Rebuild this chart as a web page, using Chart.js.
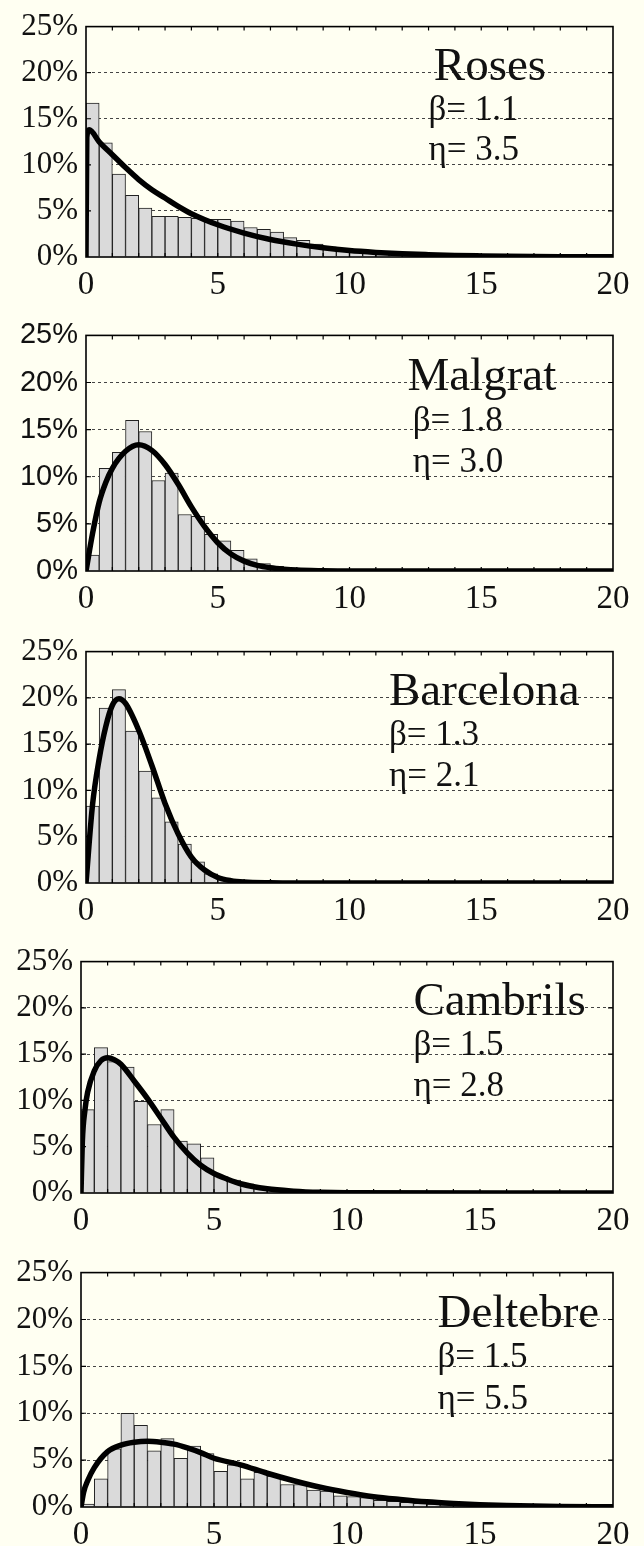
<!DOCTYPE html>
<html>
<head>
<meta charset="utf-8">
<script src="https://cdn.jsdelivr.net/npm/chart.js@4.4.1/dist/chart.umd.min.js"></script>
<style>
  html, body { margin: 0; padding: 0; background: #fffff2; }
  body { width: 644px; height: 1546px; position: relative; overflow: hidden; }
  canvas { position: absolute; left: 0; }
</style>
</head>
<body>
<canvas id="c0"></canvas>
<canvas id="c1"></canvas>
<canvas id="c2"></canvas>
<canvas id="c3"></canvas>
<canvas id="c4"></canvas>
<script>
// sites and fitted Weibull parameters
const sites = ['Roses', 'Malgrat', 'Barcelona', 'Cambrils', 'Deltebre'];
const betaLabels = ['1.1', '1.8', '1.3', '1.5', '1.5'];
const etaLabels = ['3.5', '3.0', '2.1', '2.8', '5.5'];

// tick labels
const xTicks = [0, 5, 10, 15, 20];
const yTicks = [0, 5, 10, 15, 20, 25];

// histograms: % of records in each 0.5-wide bin, starting at 0
const rosesBins = [16.7, 12.4, 9.0, 6.7, 5.3, 4.4, 4.4, 4.3, 4.2, 4.1, 4.1, 3.9, 3.2, 3.0, 2.7, 2.1, 1.8, 1.4, 1.1, 0.9, 0.7, 0.5, 0.35, 0.25, 0.15, 0.1];
const malgratBins = [1.7, 10.9, 12.6, 16.0, 14.8, 9.6, 10.4, 6.0, 5.8, 3.9, 3.2, 2.2, 1.3, 0.8, 0.5, 0.3, 0.2, 0.1];
const barcelonaBins = [8.3, 18.9, 20.9, 16.4, 12.1, 9.2, 6.6, 4.2, 2.3, 1.0, 0.5, 0.2, 0.1];
const cambrilsBins = [9.0, 15.7, 14.2, 13.6, 9.9, 7.4, 9.0, 5.6, 5.3, 3.8, 1.8, 1.4, 1.0, 0.7, 0.5, 0.3, 0.2, 0.1];
const deltebreBins = [0.3, 3.0, 6.2, 10.0, 8.7, 6.0, 7.3, 5.2, 6.5, 5.7, 3.8, 4.5, 3.0, 3.7, 3.3, 2.4, 2.4, 1.8, 1.7, 1.2, 1.1, 1.0, 0.7, 0.6, 0.5, 0.4, 0.3, 0.2, 0.15, 0.1];

// fitted curves, sampled along x
const rosesFitX = [0, 0.03, 0.12, 0.5, 1, 1.5, 2, 2.5, 3, 3.5, 4, 5, 6, 7, 8, 9, 10, 11, 12, 13, 14, 15, 16, 18, 20];
const rosesFitY = [0, 13.0, 13.8, 12.5, 11.1, 9.7, 8.4, 7.3, 6.4, 5.5, 4.7, 3.5, 2.6, 1.9, 1.4, 1.0, 0.7, 0.5, 0.35, 0.25, 0.17, 0.12, 0.08, 0.04, 0.02];
const malgratFitX = [0, 0.25, 0.5, 0.75, 1, 1.5, 2, 2.5, 3, 3.5, 4, 4.5, 5, 5.5, 6, 6.5, 7, 7.5, 8, 9, 10, 20];
const malgratFitY = [0, 4.0, 7.3, 9.4, 10.9, 12.7, 13.4, 12.8, 11.3, 9.2, 6.8, 4.7, 3.0, 1.8, 1.05, 0.6, 0.35, 0.2, 0.1, 0.03, 0, 0];
const barcelonaFitX = [0, 0.25, 0.5, 0.75, 1, 1.25, 1.5, 2, 2.5, 3, 3.5, 4, 4.5, 5, 5.5, 6, 7, 8, 20];
const barcelonaFitY = [0, 8.5, 13.4, 16.9, 19.2, 19.9, 19.4, 16.5, 12.7, 8.6, 5.3, 2.8, 1.4, 0.6, 0.25, 0.1, 0.02, 0, 0];
const cambrilsFitX = [0, 0.05, 0.15, 0.25, 0.5, 0.75, 1, 1.25, 1.5, 2, 2.5, 3, 3.5, 4, 4.5, 5, 5.5, 6, 7, 8, 9, 10, 20];
const cambrilsFitY = [0, 5.5, 9.0, 10.9, 13.2, 14.3, 14.6, 14.4, 13.9, 12.1, 10.2, 8.1, 6.0, 4.3, 3.0, 2.1, 1.5, 1.0, 0.45, 0.2, 0.07, 0.02, 0];
const deltebreFitX = [0, 0.1, 0.25, 0.5, 1, 1.5, 2, 2.5, 3, 3.5, 4, 4.5, 5, 6, 7, 8, 9, 10, 11, 12, 13, 14, 15, 16, 17, 18, 20];
const deltebreFitY = [0, 1.6, 2.8, 4.2, 5.9, 6.6, 6.9, 7.0, 6.9, 6.7, 6.3, 5.8, 5.2, 4.5, 3.6, 2.8, 2.1, 1.55, 1.1, 0.8, 0.55, 0.38, 0.25, 0.16, 0.1, 0.06, 0.02];

const allBins = [rosesBins, malgratBins, barcelonaBins, cambrilsBins, deltebreBins];
const allFitX = [rosesFitX, malgratFitX, barcelonaFitX, cambrilsFitX, deltebreFitX];
const allFitY = [rosesFitY, malgratFitY, barcelonaFitY, cambrilsFitY, deltebreFitY];

// panel placement on the page
const layout = [
  { top: 0,    left: 86, plotH: 235, nameX: 13.2, parX: 13.0, ySans: false },
  { top: 310,  left: 86, plotH: 239, nameX: 12.2, parX: 12.4, ySans: true },
  { top: 625,  left: 86, plotH: 236, nameX: 11.5, parX: 11.5, ySans: false },
  { top: 935,  left: 81, plotH: 236, nameX: 12.5, parX: 12.5, ySans: false },
  { top: 1246, left: 81, plotH: 239, nameX: 13.4, parX: 13.4, ySans: false }
];
const padTop = 22, xAxisH = 40, padRight = 31;
const serif = "'Liberation Serif', 'Times New Roman', serif";
const sans = "'Liberation Sans', Arial, sans-serif";

// plot frame with small inward ticks
const framePlugin = {
  id: 'frame',
  afterDatasetsDraw(chart) {
    const { ctx, chartArea: a, scales: { x, y } } = chart;
    ctx.save();
    ctx.strokeStyle = '#000';
    ctx.lineWidth = 1.6;
    ctx.strokeRect(a.left, a.top, a.right - a.left, a.bottom - a.top);
    ctx.lineWidth = 1.2;
    ctx.beginPath();
    for (let v = 1; v < 20; v++) {
      const px = x.getPixelForValue(v);
      ctx.moveTo(px, a.top); ctx.lineTo(px, a.top + 4);
      ctx.moveTo(px, a.bottom); ctx.lineTo(px, a.bottom - 4);
    }
    for (let v = 5; v < 25; v += 5) {
      const py = y.getPixelForValue(v);
      ctx.moveTo(a.left, py); ctx.lineTo(a.left + 5, py);
      ctx.moveTo(a.right, py); ctx.lineTo(a.right - 5, py);
    }
    ctx.stroke();
    ctx.restore();
  }
};

// site name and fit parameters inside the plot
const siteLabelPlugin = {
  id: 'siteLabel',
  afterDraw(chart, args, opts) {
    const { ctx, scales: { x, y } } = chart;
    ctx.save();
    ctx.fillStyle = '#111';
    ctx.textAlign = 'left';
    ctx.textBaseline = 'alphabetic';
    ctx.font = '47px ' + serif;
    ctx.fillText(opts.name, x.getPixelForValue(opts.nameX), y.getPixelForValue(19.2));
    ctx.font = '35px ' + serif;
    ctx.fillText('\u03b2= ' + opts.beta, x.getPixelForValue(opts.parX), y.getPixelForValue(14.9));
    ctx.fillText('\u03b7= ' + opts.eta, x.getPixelForValue(opts.parX), y.getPixelForValue(10.5));
    ctx.restore();
  }
};

function makePanel(i) {
  const L = layout[i];
  const canvas = document.getElementById('c' + i);
  canvas.width = 644;
  canvas.height = padTop + L.plotH + xAxisH;
  canvas.style.top = L.top + 'px';

  const bars = allBins[i].map((v, k) => ({ x: 0.25 + 0.5 * k, y: v }));
  const fit = allFitX[i].map((v, k) => ({ x: v, y: allFitY[i][k] }));

  new Chart(canvas, {
    type: 'bar',
    data: {
      datasets: [
        {
          type: 'line',
          data: fit,
          order: 0,
          borderColor: '#000',
          borderWidth: 5.5,
          pointRadius: 0,
          cubicInterpolationMode: 'monotone',
          fill: false
        },
        {
          type: 'bar',
          data: bars,
          order: 1,
          backgroundColor: '#dadada',
          borderColor: '#222',
          borderWidth: 1,
          barPercentage: 1,
          categoryPercentage: 1,
          grouped: false
        }
      ]
    },
    options: {
      responsive: false,
      animation: false,
      devicePixelRatio: 1,
      layout: { padding: { top: padTop, right: padRight, left: 0, bottom: 0 } },
      plugins: {
        legend: { display: false },
        tooltip: { enabled: false },
        siteLabel: { name: sites[i], beta: betaLabels[i], eta: etaLabels[i], nameX: L.nameX, parX: L.parX }
      },
      scales: {
        x: {
          type: 'linear',
          min: 0, max: 20,
          offset: false,
          afterFit: s => { s.height = xAxisH; },
          afterBuildTicks: s => { s.ticks = xTicks.map(v => ({ value: v })); },
          grid: { display: false, offset: false },
          border: { display: false },
          ticks: {
            font: { family: serif, size: 33 },
            color: '#111',
            padding: 1,
            maxRotation: 0
          }
        },
        y: {
          min: 0, max: 25,
          afterFit: s => { s.width = L.left; },
          afterBuildTicks: s => { s.ticks = yTicks.map(v => ({ value: v })); },
          grid: {
            drawTicks: false,
            lineWidth: 1,
            color: c => (c.tick.value === 0 || c.tick.value === 25) ? 'rgba(0,0,0,0)' : '#444'
          },
          border: { display: false, dash: [3, 3] },
          ticks: {
            font: { family: L.ySans ? sans : serif, size: L.ySans ? 29 : 31 },
            color: '#111',
            padding: 8,
            callback: v => v + '%'
          }
        }
      }
    },
    plugins: [framePlugin, siteLabelPlugin]
  });
}

for (let i = 0; i < 5; i++) makePanel(i);
</script>
</body>
</html>
